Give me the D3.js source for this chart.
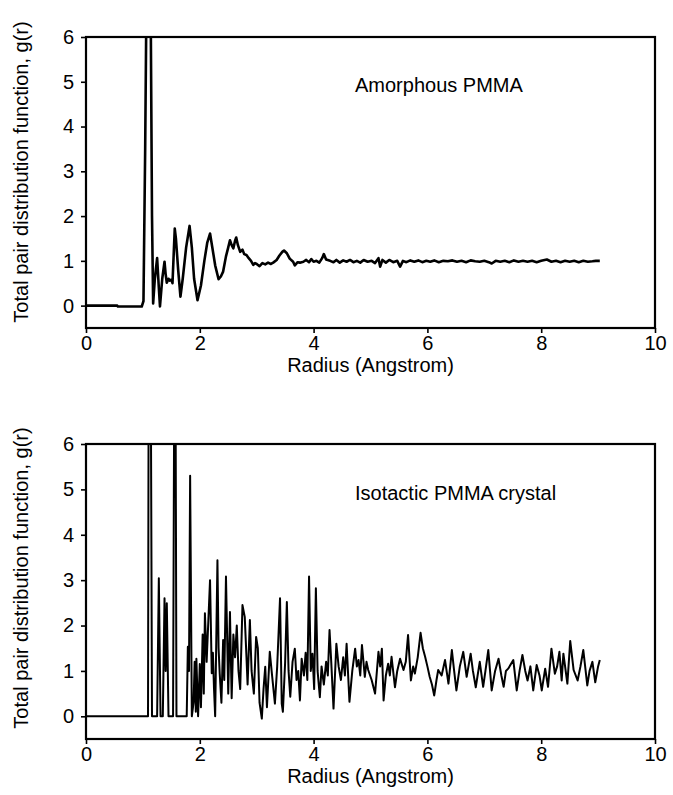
<!DOCTYPE html>
<html>
<head>
<meta charset="utf-8">
<script src="https://cdn.jsdelivr.net/npm/d3@7"></script>
<style>
  html, body { margin: 0; padding: 0; background: #fff; }
  svg { display: block; }
  text { font-family: "Liberation Sans", Arial, Helvetica, sans-serif; fill: #000; }
</style>
</head>
<body>
<svg id="chart" width="673" height="795"></svg>
<script>
// Radial distances (Angstrom) and total pair distribution g(r), amorphous PMMA
const amorphousR = [0, 0.55, 0.56, 0.98, 1.01, 1.04, 1.07, 1.10, 1.13, 1.16, 1.18, 1.21, 1.25, 1.28, 1.30, 1.34, 1.38, 1.40, 1.42, 1.45, 1.47, 1.50, 1.52, 1.56, 1.58, 1.62, 1.66, 1.70, 1.76, 1.82, 1.86, 1.90, 1.96, 2.02, 2.08, 2.13, 2.18, 2.22, 2.27, 2.33, 2.37, 2.41, 2.46, 2.50, 2.53, 2.56, 2.59, 2.62, 2.64, 2.67, 2.71, 2.75, 2.78, 2.82, 2.86, 2.90, 2.94, 2.97, 3.00, 3.05, 3.10, 3.15, 3.20, 3.25, 3.29, 3.35, 3.40, 3.45, 3.48, 3.53, 3.58, 3.64, 3.67, 3.72, 3.76, 3.82, 3.87, 3.92, 3.96, 4.00, 4.05, 4.10, 4.15, 4.18, 4.22, 4.29, 4.35, 4.40, 4.46, 4.52, 4.58, 4.64, 4.70, 4.76, 4.82, 4.88, 4.95, 5.02, 5.08, 5.14, 5.17, 5.21, 5.27, 5.33, 5.40, 5.47, 5.52, 5.57, 5.63, 5.70, 5.77, 5.84, 5.91, 5.98, 6.05, 6.12, 6.20, 6.28, 6.36, 6.44, 6.52, 6.60, 6.68, 6.76, 6.84, 6.92, 7.00, 7.08, 7.13, 7.20, 7.28, 7.36, 7.44, 7.52, 7.60, 7.68, 7.76, 7.84, 7.92, 8.00, 8.10, 8.18, 8.26, 8.34, 8.42, 8.50, 8.58, 8.66, 8.74, 8.82, 8.90, 8.96, 9.03];
const amorphousG = [0, 0, -0.02, -0.02, 0.1, 3.5, 8, 12, 8, 2, 0.05, 0.6, 1.06, 0.4, -0.02, 0.6, 0.98, 0.7, 0.51, 0.6, 0.56, 0.58, 0.5, 1.72, 1.5, 0.8, 0.2, 0.6, 1.3, 1.78, 1.3, 0.6, 0.12, 0.45, 1.0, 1.4, 1.61, 1.3, 0.9, 0.59, 0.65, 0.76, 1.1, 1.3, 1.46, 1.35, 1.28, 1.45, 1.52, 1.35, 1.2, 1.25, 1.15, 1.13, 1.06, 1.0, 0.91, 0.95, 0.93, 0.88, 0.95, 0.92, 0.96, 0.93, 0.96, 1.02, 1.12, 1.2, 1.23, 1.17, 1.05, 0.98, 0.9, 0.97, 0.96, 0.98, 1.02, 0.97, 1.04, 0.98, 1.0, 0.96, 1.06, 1.15, 1.03, 1.0, 0.97, 1.02, 0.96, 1.01, 0.98, 1.02, 0.97, 1.0, 0.96, 1.02, 0.98, 1.0, 0.95, 1.06, 0.87, 1.02, 0.96, 1.02, 0.97, 1.0, 0.87, 1.0, 0.97, 1.01, 0.98, 1.01, 0.97, 1.0, 0.98, 1.01, 0.97, 1.0, 0.99, 1.01, 0.98, 1.0, 0.97, 1.01, 0.99, 0.98, 1.0, 0.97, 0.94, 1.0, 0.98, 1.0, 0.97, 1.01, 0.98, 1.0, 0.98, 1.0, 0.97, 1.0, 1.03, 0.98, 1.0, 0.97, 1.0, 0.98, 1.0, 0.97, 1.0, 0.98, 0.99, 1.0, 1.0];

// Radial distances (Angstrom) and total pair distribution g(r), isotactic PMMA crystal
const crystalR = [0, 1.09, 1.10, 1.12, 1.14, 1.16, 1.25, 1.28, 1.31, 1.35, 1.38, 1.40, 1.42, 1.45, 1.53, 1.55, 1.57, 1.59, 1.77, 1.79, 1.81, 1.83, 1.86, 1.89, 1.91, 1.93, 1.94, 1.97, 2.00, 2.02, 2.05, 2.07, 2.09, 2.12, 2.15, 2.18, 2.21, 2.23, 2.25, 2.27, 2.31, 2.33, 2.35, 2.38, 2.41, 2.43, 2.46, 2.50, 2.53, 2.56, 2.59, 2.62, 2.65, 2.68, 2.71, 2.75, 2.79, 2.82, 2.84, 2.88, 2.91, 2.95, 2.99, 3.02, 3.05, 3.09, 3.12, 3.15, 3.18, 3.23, 3.27, 3.32, 3.36, 3.41, 3.44, 3.46, 3.50, 3.53, 3.56, 3.59, 3.63, 3.67, 3.70, 3.73, 3.76, 3.79, 3.83, 3.86, 3.89, 3.92, 3.95, 3.98, 4.01, 4.04, 4.07, 4.11, 4.14, 4.18, 4.22, 4.25, 4.28, 4.31, 4.35, 4.40, 4.44, 4.48, 4.52, 4.55, 4.58, 4.63, 4.68, 4.73, 4.76, 4.79, 4.82, 4.85, 4.90, 4.93, 4.96, 5.02, 5.08, 5.14, 5.17, 5.20, 5.23, 5.27, 5.31, 5.34, 5.37, 5.43, 5.47, 5.52, 5.58, 5.62, 5.66, 5.71, 5.75, 5.78, 5.83, 5.88, 5.92, 5.96, 6.00, 6.04, 6.08, 6.12, 6.16, 6.19, 6.25, 6.31, 6.37, 6.43, 6.47, 6.51, 6.57, 6.63, 6.69, 6.76, 6.80, 6.85, 6.92, 6.98, 7.02, 7.07, 7.13, 7.19, 7.25, 7.30, 7.34, 7.38, 7.42, 7.51, 7.57, 7.62, 7.67, 7.72, 7.76, 7.81, 7.86, 7.92, 7.97, 8.01, 8.07, 8.12, 8.18, 8.24, 8.28, 8.32, 8.36, 8.39, 8.46, 8.51, 8.57, 8.64, 8.69, 8.74, 8.81, 8.85, 8.90, 8.95, 9.00, 9.03];
const crystalG = [0, 0, 6.8, 9, 7, 0, 0, 3.04, 0, 0, 2.6, 1.0, 2.49, 0, 0, 7, 9, 0, 0, 1.53, 1.0, 5.3, 0, 0.3, 1.2, 0.1, 1.27, 0, 1.15, 0.2, 1.8, 0.5, 2.27, 1.2, 2.1, 3.0, 0.95, 1.4, 0.6, 0, 3.44, 1.5, 0.94, 0.3, 1.68, 0.8, 3.08, 0.5, 2.3, 0.4, 1.8, 1.3, 2.0, 1.0, 0.6, 2.45, 2.19, 1.31, 0.7, 2.12, 1.0, 0.5, 1.75, 1.5, 0.3, -0.05, 0.6, 1.09, 0.2, 1.42, 0.9, 0.28, 1.1, 2.6, 0.28, 0.1, 1.2, 2.52, 1.0, 0.43, 1.2, 1.49, 0.8, 1.0, 0.35, 1.27, 0.9, 1.4, 0.8, 3.08, 1.0, 1.38, 0.6, 2.82, 1.0, 0.42, 1.1, 0.7, 1.2, 0.9, 1.9, 1.2, 0.17, 1.6, 1.1, 0.8, 1.3, 0.9, 1.6, 0.32, 1.0, 1.49, 1.1, 1.24, 0.9, 1.57, 0.87, 1.2, 1.02, 0.8, 0.5, 1.42, 1.1, 1.49, 0.35, 0.9, 1.16, 0.9, 1.31, 0.64, 1.0, 1.27, 1.02, 1.2, 1.79, 0.79, 1.1, 0.94, 1.3, 1.84, 1.5, 1.31, 1.1, 0.87, 0.7, 0.46, 0.8, 1.02, 0.9, 1.24, 0.72, 1.46, 1.0, 0.57, 1.1, 1.42, 0.87, 1.38, 1.0, 0.64, 1.2, 0.65, 1.0, 1.46, 0.57, 1.0, 1.27, 0.9, 0.65, 1.0, 1.05, 1.24, 0.57, 1.0, 1.35, 1.0, 0.79, 1.1, 0.57, 1.13, 0.9, 0.57, 1.05, 0.65, 1.49, 0.94, 1.1, 1.42, 0.79, 1.38, 0.72, 1.66, 1.02, 0.79, 1.1, 1.46, 0.68, 1.0, 1.2, 0.75, 1.1, 1.24];

const xTicks = [0, 2, 4, 6, 8, 10];
const yTicks = [0, 1, 2, 3, 4, 5, 6];
const xTitle = "Radius (Angstrom)";
const yTitle = "Total pair distribution function, g(r)";

const panels = [
  { r: amorphousR, g: amorphousG, label: "Amorphous PMMA", top: 37, bottom: 328, yTitleMid: 172, labelY: 92, width: 2.6 },
  { r: crystalR, g: crystalG, label: "Isotactic PMMA crystal", top: 444, bottom: 739, yTitleMid: 578, labelY: 500, width: 2.0 }
];

const svg = d3.select("#chart");
const left = 86, right = 655;
const fontSize = 20;

panels.forEach((p, i) => {
  const x = d3.scaleLinear().domain([0, 10]).range([left, right]);
  const y = d3.scaleLinear().domain([-0.5, 6]).range([p.bottom, p.top]);
  const g = svg.append("g");

  const clipId = "clip" + i;
  svg.append("clipPath").attr("id", clipId)
    .append("rect").attr("x", left).attr("y", p.top)
    .attr("width", right - left).attr("height", p.bottom - p.top);

  const pts = p.r.map((r, k) => [r, p.g[k]]);
  const line = d3.line().x(d => x(d[0])).y(d => y(d[1]));
  g.append("path")
    .datum(pts)
    .attr("clip-path", `url(#${clipId})`)
    .attr("fill", "none")
    .attr("stroke", "#000")
    .attr("stroke-width", p.width)
    .attr("stroke-linejoin", "round")
    .attr("d", line);

  // frame
  g.append("rect")
    .attr("x", left).attr("y", p.top)
    .attr("width", right - left).attr("height", p.bottom - p.top)
    .attr("fill", "none").attr("stroke", "#000").attr("stroke-width", 2.2);

  const xAxis = g.append("g").attr("transform", `translate(0,${p.bottom})`)
    .call(d3.axisBottom(x).tickValues(xTicks).tickSize(5).tickPadding(3).tickFormat(d3.format("d")));
  const yAxis = g.append("g").attr("transform", `translate(${left},0)`)
    .call(d3.axisLeft(y).tickValues(yTicks).tickSize(5).tickPadding(7).tickFormat(d3.format("d")));
  [xAxis, yAxis].forEach(a => {
    a.select(".domain").remove();
    a.selectAll(".tick line").attr("stroke", "#000").attr("stroke-width", 1.6);
    a.selectAll(".tick text").attr("font-size", fontSize).attr("fill", "#000")
      .style("font-family", '"Liberation Sans", Arial, sans-serif');
  });

  g.append("text")
    .attr("x", (left + right) / 2).attr("y", p.bottom + 44)
    .attr("text-anchor", "middle").attr("font-size", fontSize)
    .text(xTitle);

  g.append("text")
    .attr("transform", `translate(28,${p.yTitleMid}) rotate(-90)`)
    .attr("text-anchor", "middle").attr("font-size", fontSize)
    .text(yTitle);

  g.append("text")
    .attr("x", 355).attr("y", p.labelY)
    .attr("font-size", fontSize)
    .text(p.label);
});
</script>
</body>
</html>
